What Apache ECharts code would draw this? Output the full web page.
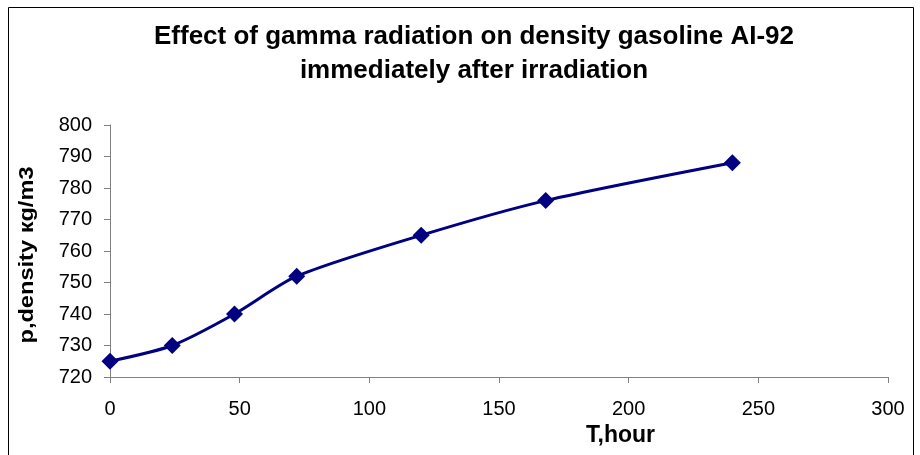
<!DOCTYPE html>
<html><head><meta charset="utf-8">
<script src="https://cdn.jsdelivr.net/npm/echarts@6/dist/echarts.min.js"></script>
<style>html,body{margin:0;padding:0;background:#fff}#c{width:920px;height:455px}</style>
</head><body><div id="c"></div>
<script>
var hours = [0, 24, 48, 72, 120, 168, 240];
var density = [725, 730, 740, 752, 765, 776, 788];
var titleLines = ['Effect of gamma radiation on density gasoline AI-92', 'immediately after irradiation'];
var xName = 'T,hour';
var yName = 'p,density кg/m3';

var chart = echarts.init(document.getElementById('c'), null, {renderer:'canvas'});
var font = 'Liberation Sans, Arial, sans-serif';
chart.setOption({
  animation: false,
  backgroundColor: '#fff',
  title: {
    text: titleLines.join('\n'), left: 469, top: 15, textAlign: 'center',
    textStyle: {fontFamily: font, fontSize: 26, fontWeight: 'bold', color: '#000', lineHeight: 34}
  },
  graphic: [
    {type:'rect', shape:{x:8.5, y:7.5, width:905, height:470}, style:{fill:'none', stroke:'#000', lineWidth:1}, silent:true},
    {type:'text', x: 586, y: 436, style:{text:xName, font:'bold 23px ' + font, fill:'#000', align:'left', verticalAlign:'middle', textAlign:'left', textVerticalAlign:'middle'}},
    {type:'text', x: 27, y: 255, rotation: Math.PI/2, scaleX: 1.18, style:{text:yName, font:'bold 20px ' + font, fill:'#000', align:'center', verticalAlign:'middle', textAlign:'center', textVerticalAlign:'middle'}}
  ],
  grid: {left: 110, right: 32, top: 125, bottom: 78},
  xAxis: {
    type: 'value', min: 0, max: 300, interval: 50,
    axisLine: {lineStyle: {color: '#808080'}},
    axisTick: {show: true, inside: false, length: 6, lineStyle: {color: '#808080'}},
    axisLabel: {fontFamily: font, fontSize: 20, color: '#000', margin: 22},
    splitLine: {show: false}
  },
  yAxis: {
    type: 'value', min: 720, max: 800, interval: 10,
    axisLine: {show: true, lineStyle: {color: '#808080'}},
    axisTick: {show: true, inside: false, length: 6, lineStyle: {color: '#808080'}},
    axisLabel: {fontFamily: font, fontSize: 20, color: '#000', margin: 18},
    splitLine: {show: false}
  },
  series: [{
    type: 'line', data: hours.map(function(h, i){ return [h, density[i]]; }),
    smooth: 0.25, symbol: 'diamond', symbolSize: 17,
    lineStyle: {color: '#000080', width: 3},
    itemStyle: {color: '#000080'}
  }]
});
</script></body></html>
